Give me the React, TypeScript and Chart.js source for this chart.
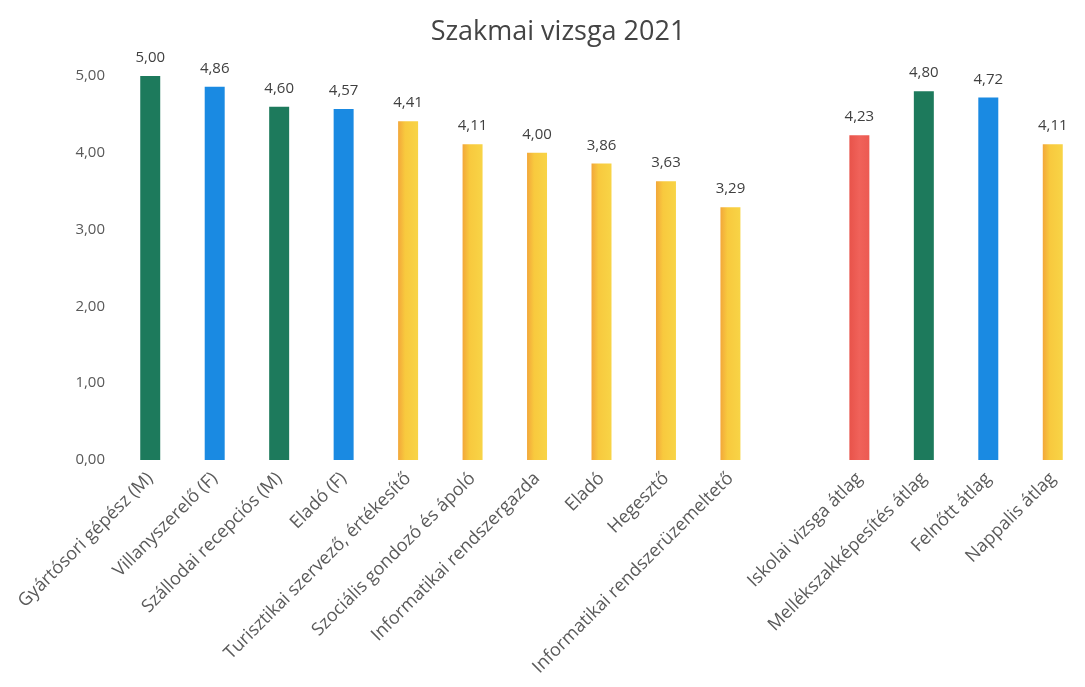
import React, { useEffect, useRef } from "react";
import { Chart, registerables } from "chart.js";

Chart.register(...registerables);

const chartTitle = "Szakmai vizsga 2021";
const categories = [
  "Gyártósori gépész (M)",
  "Villanyszerelő (F)",
  "Szállodai recepciós (M)",
  "Eladó (F)",
  "Turisztikai szervező, értékesítő",
  "Szociális gondozó és ápoló",
  "Informatikai rendszergazda",
  "Eladó",
  "Hegesztő",
  "Informatikai rendszerüzemeltető",
  "",
  "Iskolai vizsga átlag",
  "Mellékszakképesítés átlag",
  "Felnőtt átlag",
  "Nappalis átlag",
];
const values: (number | null)[] = [5.0, 4.86, 4.6, 4.57, 4.41, 4.11, 4.0, 3.86, 3.63, 3.29, null, 4.23, 4.8, 4.72, 4.11];
const groups = ["M", "F", "M", "F", "N", "N", "N", "N", "N", "N", "", "A", "M", "F", "N"];
const yMin = 0;
const yMax = 5;
const yStep = 1;

const FONT = "'Open Sans', 'DejaVu Sans', sans-serif";
const fmt = (v: number) => v.toFixed(2).replace(".", ",");

export default function App() {
  const ref = useRef<HTMLCanvasElement | null>(null);

  useEffect(() => {
    if (!ref.current) return;
    document.body.style.margin = "0";

    const colorFor = (c: any) => {
      const g = groups[c.dataIndex];
      if (g === "M") return "#1d7a5c";
      if (g === "F") return "#1a8ae2";
      const chart = c.chart;
      const xs = chart.scales && chart.scales.x;
      if (!xs || !chart.chartArea) return g === "A" ? "#ec5b50" : "#f7cb3c";
      const x = xs.getPixelForValue(c.dataIndex);
      const w = (xs.width / categories.length) * 0.31;
      const grad = chart.ctx.createLinearGradient(x - w / 2, 0, x + w / 2, 0);
      if (g === "A") {
        grad.addColorStop(0, "#e8534a");
        grad.addColorStop(0.5, "#f0625a");
        grad.addColorStop(1, "#ec5a52");
      } else {
        grad.addColorStop(0, "#f2a73a");
        grad.addColorStop(0.35, "#f8c93e");
        grad.addColorStop(1, "#f8d446");
      }
      return grad;
    };

    const labelPlugin = {
      id: "valueLabels",
      afterDatasetsDraw(chart: any) {
        const ctx = chart.ctx;
        const meta = chart.getDatasetMeta(0);
        ctx.save();
        ctx.font = `15px ${FONT}`;
        ctx.fillStyle = "#404040";
        ctx.textAlign = "center";
        ctx.textBaseline = "alphabetic";
        meta.data.forEach((el: any, i: number) => {
          const v = values[i];
          if (v === null || v === undefined) return;
          ctx.fillText(fmt(v), el.x, el.y - 14);
        });
        ctx.restore();
      },
    };

    const titlePlugin = {
      id: "customTitle",
      afterDraw(chart: any) {
        const ctx = chart.ctx;
        ctx.save();
        ctx.font = `27px ${FONT}`;
        ctx.fillStyle = "#444444";
        ctx.textAlign = "center";
        ctx.textBaseline = "alphabetic";
        ctx.fillText(chartTitle, 558, 40);
        ctx.restore();
      },
    };

    const chart = new Chart(ref.current, {
      type: "bar",
      data: {
        labels: categories,
        datasets: [
          {
            data: values,
            backgroundColor: colorFor,
            borderWidth: 0,
            barPercentage: 0.31,
            categoryPercentage: 1,
          },
        ],
      },
      options: {
        responsive: false,
        animation: false,
        layout: { padding: { top: 76, left: 0, right: 0, bottom: 0 } },
        plugins: {
          legend: { display: false },
          title: { display: false },
          tooltip: { enabled: false },
        },
        scales: {
          x: {
            grid: { display: false, drawTicks: false },
            border: { display: false },
            ticks: {
              autoSkip: false,
              maxRotation: 45,
              minRotation: 45,
              padding: 8,
              color: "#5a5a5a",
              font: { family: FONT, size: 18 },
            },
            afterFit(scale: any) {
              scale.height = 227;
            },
          },
          y: {
            min: yMin,
            max: yMax,
            grid: { display: false, drawTicks: false },
            border: { display: false },
            ticks: {
              stepSize: yStep,
              padding: 13,
              color: "#595959",
              font: { family: FONT, size: 15 },
              callback: (v: any) => fmt(Number(v)),
            },
            afterFit(scale: any) {
              scale.width = 118;
            },
          },
        },
      },
      plugins: [labelPlugin, titlePlugin],
    });
    return () => chart.destroy();
  }, []);

  return (
    <div style={{ position: "absolute", left: 0, top: 0, width: 1085, height: 687, background: "#fff" }}>
      <canvas ref={ref} width={1085} height={687} />
    </div>
  );
}
